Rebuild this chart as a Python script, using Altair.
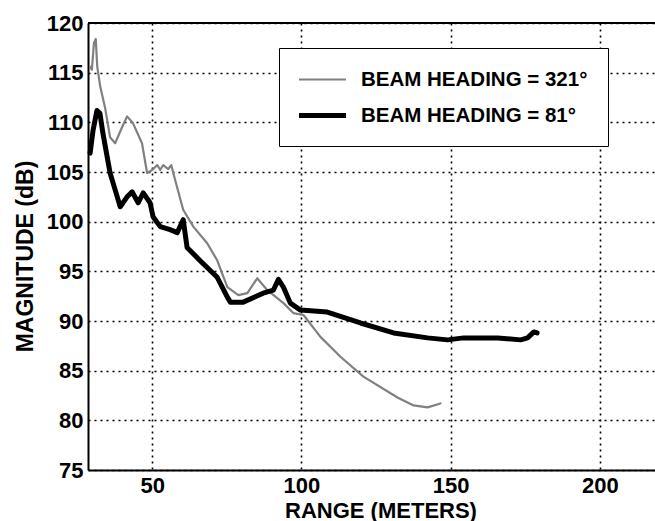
import altair as alt
import pandas as pd

# Series: BEAM HEADING = 321° (thin gray)
x_321 = [29.2, 29.8, 30.5, 31.1, 31.6, 32.6, 34.2, 35.9, 37.6, 39.9, 41.6, 43.6, 46.6, 48.3, 50.0,
         51.7, 52.7, 53.7, 55.4, 56.4, 57.7, 60.4, 63.8, 68.5, 71.8, 75.2, 78.9, 81.9, 85.2,
         88.6, 94.0, 97.3, 100.7, 106.4, 113.1, 120.8, 132.2, 137.6, 142.3, 146.6]
y_321 = [115.6, 115.3, 118.0, 118.4, 115.6, 113.6, 111.5, 108.5, 107.9, 109.5, 110.6, 109.9, 107.9, 104.9, 105.2,
         105.7, 105.2, 105.7, 105.3, 105.7, 104.2, 101.2, 99.5, 97.8, 96.1, 93.4, 92.6, 92.8, 94.3,
         93.1, 91.8, 90.8, 90.6, 88.4, 86.4, 84.4, 82.3, 81.5, 81.3, 81.7]

# Series: BEAM HEADING = 81° (thick black)
x_81 = [29.2, 30.2, 31.5, 32.5, 33.5, 35.9, 37.6, 39.3, 41.6, 43.3, 45.3, 47.0, 49.3, 50.3, 52.7,
        56.0, 58.4, 60.4, 61.7, 66.0, 71.8, 75.2, 76.2, 80.5, 87.2, 90.6, 92.3, 94.0, 96.3, 99.7,
        108.7, 119.8, 130.9, 142.3, 149.0, 154.4, 165.8, 173.5, 175.8, 177.9, 179.0]
y_81 = [106.9, 109.2, 111.2, 110.9, 108.9, 104.9, 103.2, 101.5, 102.5, 103.0, 101.9, 102.9, 101.9, 100.5, 99.5,
        99.2, 98.9, 100.2, 97.4, 96.1, 94.4, 92.4, 91.9, 91.9, 92.8, 93.1, 94.2, 93.4, 91.8, 91.1,
        90.9, 89.8, 88.8, 88.3, 88.1, 88.3, 88.3, 88.1, 88.3, 88.9, 88.8]

series_names = ["BEAM HEADING = 321°", "BEAM HEADING = 81°"]
series_colors = ["#808080", "#000000"]
series_widths = [2.2, 5]

x_ticks = [50, 100, 150, 200]
y_ticks = [75, 80, 85, 90, 95, 100, 105, 110, 115, 120]
x_domain = [28.5, 218.5]
y_domain = [75, 120]

rows = []
for i, (xs, ys) in enumerate([(x_321, y_321), (x_81, y_81)]):
    for j, (a, b) in enumerate(zip(xs, ys)):
        rows.append({"range": a, "mag": b, "series": series_names[i], "order": j})
df = pd.DataFrame(rows)

W, H = 567, 447
FONT = "Liberation Sans"

x_enc = alt.X("range:Q",
              scale=alt.Scale(domain=x_domain, nice=False, zero=False),
              axis=alt.Axis(values=x_ticks, title="RANGE (METERS)", grid=True,
                            gridColor="black", gridDash=[2, 4], gridWidth=1.6, gridOpacity=1,
                            domainColor="black", domainWidth=2, tickSize=0,
                            labelPadding=5, labelFont=FONT, labelFontWeight="bold",
                            labelFontSize=22, labelColor="black",
                            titleFont=FONT, titleFontWeight="bold", titleFontSize=22,
                            titleColor="black", titleBaseline="alphabetic",
                            titleY=47, titleX=W / 2 + 9))
y_enc = alt.Y("mag:Q",
              scale=alt.Scale(domain=y_domain, nice=False, zero=False),
              axis=alt.Axis(values=y_ticks, title="MAGNITUDE (dB)", grid=True,
                            gridColor="black", gridDash=[2, 4], gridWidth=1.6, gridOpacity=1,
                            domainColor="black", domainWidth=2, tickSize=0,
                            labelPadding=5, labelFont=FONT, labelFontWeight="bold",
                            labelFontSize=22, labelColor="black",
                            titleFont=FONT, titleFontWeight="bold", titleFontSize=23,
                            titleColor="black", titleBaseline="alphabetic",
                            titleX=-56, titleY=233))


def make_legend():
    return alt.Legend(
        title=None, orient="none", legendX=191, legendY=25,
        strokeColor="black", fillColor="white", padding=20,
        symbolType="M-2.35,0H2.35", symbolSize=400, symbolOffset=11,
        labelFont=FONT, labelFontWeight="bold",
        labelFontSize=20.5, labelColor="black", rowPadding=13, labelOffset=26, labelLimit=0,
        cornerRadius=0,
    )


lines = alt.Chart(df).mark_line(strokeJoin="round", strokeCap="round").encode(
    x=x_enc,
    y=y_enc,
    color=alt.Color("series:N",
                    scale=alt.Scale(domain=series_names, range=series_colors),
                    legend=make_legend()),
    strokeWidth=alt.StrokeWidth("series:N",
                                scale=alt.Scale(domain=series_names, range=series_widths),
                                legend=make_legend()),
    order="order:Q",
)

top_border = alt.Chart(df).mark_rule(color="black", strokeWidth=2).encode(
    y=alt.datum(120), x=alt.value(0), x2=alt.value(W)
)

chart = alt.layer(lines, top_border).properties(
    width=W, height=H,
    autosize=alt.AutoSizeParams(type="none"),
    padding={"left": 88, "top": 23, "right": 0, "bottom": 51},
).configure_view(stroke=None).configure(background="white")

chart.save("out.html", embed_options={"renderer": "svg", "actions": False})
